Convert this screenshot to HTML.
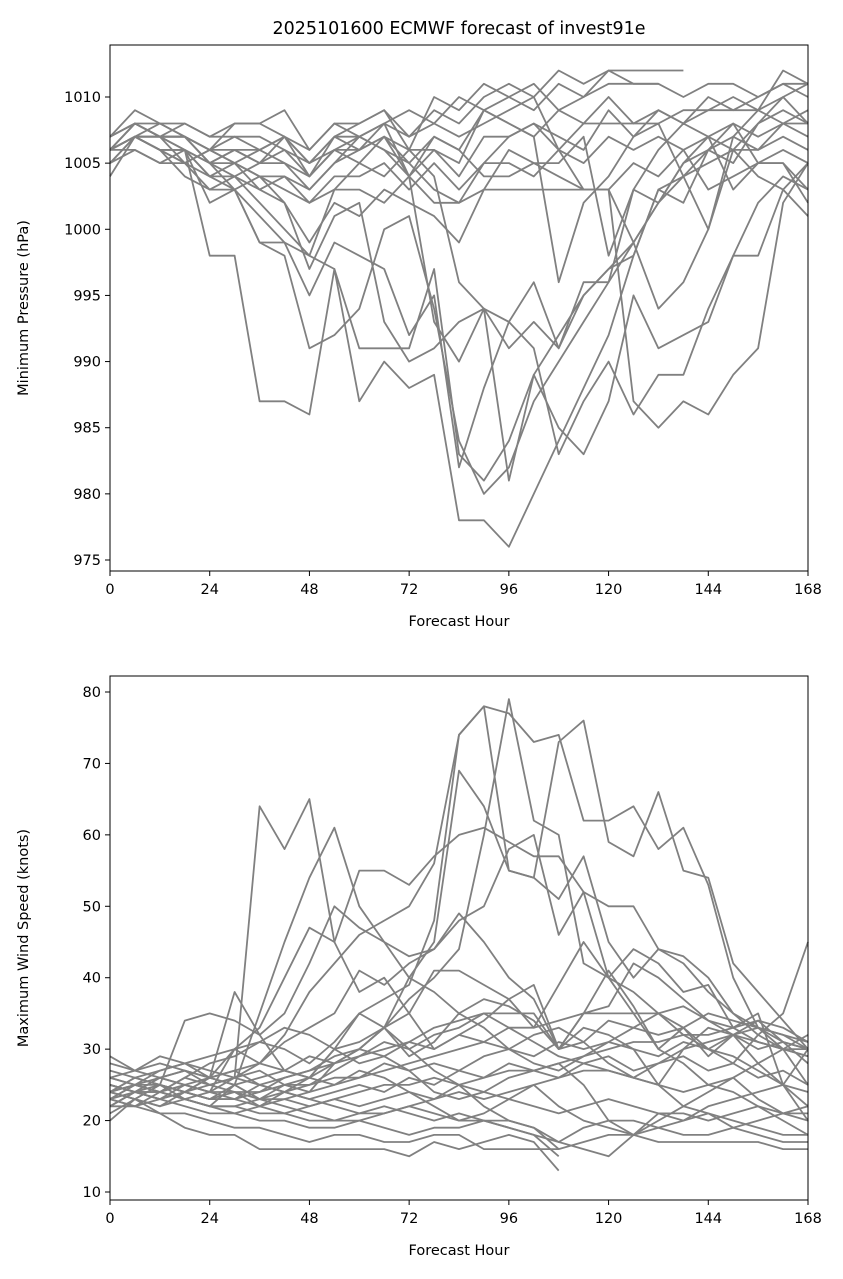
<!DOCTYPE html>
<html><head><meta charset="utf-8"><style>
html,body{margin:0;padding:0;background:#fff;}
svg{display:block;font-family:"DejaVu Sans","Liberation Sans",sans-serif;}
</style></head><body>
<svg id="chart" width="843" height="1279" viewBox="0 0 843 1279"></svg>
<script>
const hours = [0,6,12,18,24,30,36,42,48,54,60,66,72,78,84,90,96,102,108,114,120,126,132,138,144,150,156,162,168];
const xTicks = [0,24,48,72,96,120,144,168];
const pTicks = [975,980,985,990,995,1000,1005,1010];
const wTicks = [10,20,30,40,50,60,70,80];
const N = null;
const pressureSeries = [
[1006,1007,1006,1006,998,998,987,987,986,997,987,990,988,989,978,978,976,980,984,988,992,998,1003,1004,1006,1008,1007,1008,1009],
[1006,1008,1007,1007,1005,1003,999,999,998,997,991,991,991,997,983,981,984,989,992,995,997,999,1002,1004,1005,1006,1008,1009,1008],
[1005,1007,1006,1004,1003,1003,999,998,991,992,994,1000,1001,994,984,980,982,987,990,993,996,999,1002,1005,1006,1007,1009,1008,1007],
[1006,1007,1006,1006,1002,1003,1001,999,995,999,998,997,992,995,982,988,993,996,991,995,997,998,1003,1002,1006,1005,1008,1010,1008],
[1007,1008,1007,1006,1004,1005,1003,1002,997,1001,1002,993,990,991,993,994,991,993,991,996,996,1003,1002,1005,1007,1003,1005,1005,1003],
[1006,1007,1008,1007,1006,1005,1004,1002,999,1002,1001,1003,1002,1001,999,1003,1006,1005,1004,1003,1003,999,994,996,1000,1006,1004,1003,1001],
[1006,1007,1006,1005,1003,1004,1002,1000,998,1003,1005,1004,1006,1004,996,994,993,991,983,987,990,986,989,989,994,998,1002,1004,1003],
[1005,1007,1006,1006,1005,1005,1006,1005,1004,1006,1007,1006,1005,1003,1002,1005,1007,1008,1006,1003,1003,987,985,987,986,989,991,1002,1005],
[1004,1007,1007,1005,1006,1005,1004,1004,1003,1005,1006,1007,1004,993,990,994,981,989,985,983,987,995,991,992,993,998,998,1003,1005],
[1007,1009,1008,1007,1006,1008,1008,1009,1006,1008,1008,1009,1007,1009,1008,1010,1011,1010,1012,1011,1012,1012,1012,1012,N,N,N,N,N],
[1006,1008,1007,1008,1007,1007,1006,1007,1005,1007,1008,1009,1006,1010,1009,1011,1010,1011,1009,1010,1012,1011,1011,1010,1011,1011,1010,1011,1011],
[1006,1007,1006,1005,1006,1006,1005,1006,1004,1006,1006,1008,1004,1007,1006,1009,1008,1007,1009,1008,1010,1008,1009,1008,1009,1009,1010,1011,1010],
[1007,1008,1007,1006,1005,1004,1005,1005,1003,1005,1007,1006,1004,1006,1004,1007,1007,1008,1007,1006,1009,1007,1009,1008,1010,1009,1009,1010,1011],
[1006,1006,1005,1006,1004,1004,1003,1004,1002,1004,1004,1005,1003,1005,1003,1005,1005,1004,1006,1005,1007,1006,1007,1006,1007,1006,1006,1008,1008],
[1005,1006,1005,1005,1004,1003,1004,1003,1002,1003,1003,1002,1004,1002,1002,1003,1003,1003,1003,1003,1003,1005,1004,1006,1003,1004,1005,1005,1002],
[1006,1007,1007,1007,1006,1007,1007,1006,1005,1007,1007,1008,1007,1008,1007,1008,1009,1010,1006,1008,1008,1008,1008,1009,1009,1010,1009,1012,1011],
[1007,1008,1007,1007,1005,1006,1005,1007,1005,1006,1005,1007,1006,1006,1005,1009,1008,1007,996,1002,1004,1007,1008,1004,1000,1007,1006,1007,1006],
[1006,1007,1007,1007,1005,1006,1006,1007,1004,1007,1006,1007,1005,1007,1006,1004,1004,1005,1005,1007,998,1003,1006,1008,1007,1008,1005,1006,1005],
[1006,1008,1008,1008,1007,1008,1008,1007,1006,1008,1007,1008,1009,1008,1010,1009,1010,1009,1011,1010,1011,1011,1011,N,N,N,N,N,N]
];
const windSeries = [
[26,25,25,24,23,23,24,26,27,29,30,33,37,40,44,60,79,62,60,42,40,35,30,28,25,24,22,20,18],
[24,26,25,24,23,24,22,24,26,30,35,37,39,48,74,78,77,73,74,62,62,64,58,61,53,40,33,30,32],
[23,25,24,23,22,25,23,23,24,28,30,33,40,45,69,64,55,54,51,57,45,40,44,42,38,35,33,32,30],
[25,24,24,26,25,26,64,58,65,45,38,40,35,30,32,34,37,39,30,35,36,42,40,37,34,32,30,31,30],
[24,23,25,24,23,25,35,45,54,61,50,45,40,38,35,37,36,34,30,31,28,26,25,30,33,32,34,33,31],
[22,24,23,24,26,30,33,40,47,45,55,55,53,57,60,61,59,57,57,52,50,50,44,43,40,35,32,30,29],
[25,24,26,25,24,26,28,32,38,42,46,48,50,56,74,78,55,54,73,76,59,57,66,55,54,42,38,34,30],
[24,26,25,34,35,34,32,35,42,50,47,45,43,44,48,50,58,60,46,52,40,38,35,33,30,28,32,35,45],
[23,22,23,25,24,30,28,31,33,35,41,39,42,44,49,45,40,37,30,35,41,36,30,33,29,32,28,30,25],
[24,25,24,23,22,22,23,25,26,28,30,33,35,41,41,39,37,33,39,45,40,44,42,38,39,33,35,25,22],
[22,22,21,19,18,18,16,16,16,16,16,16,15,17,16,17,18,17,13,N,N,N,N,N,N,N,N,N,N],
[20,23,21,21,20,19,19,18,17,18,18,17,17,18,18,16,16,16,16,17,18,18,17,17,17,17,17,16,16],
[25,24,23,22,21,21,20,20,19,19,20,19,18,19,19,20,20,19,17,19,20,18,21,20,21,19,18,17,17],
[26,25,24,23,22,22,21,21,20,20,21,21,22,23,24,23,24,25,26,27,27,26,25,24,25,26,28,25,20],
[24,23,25,24,23,23,22,23,22,23,24,25,25,26,25,26,27,27,28,29,30,31,31,32,32,33,34,31,28],
[23,24,26,25,24,24,24,25,25,26,26,27,28,29,30,31,33,33,34,35,35,35,35,36,34,33,31,30,30],
[27,26,27,28,27,26,25,26,27,28,29,30,31,33,34,35,35,35,30,33,32,30,25,22,21,20,19,18,18],
[28,27,29,28,26,25,23,22,21,20,20,21,22,21,20,20,19,18,17,16,15,18,19,20,22,23,24,25,30],
[21,23,22,24,26,38,32,27,26,30,31,33,30,27,25,22,20,19,16,N,N,N,N,N,N,N,N,N,N],
[24,25,27,28,29,30,31,33,32,30,28,29,27,24,23,24,26,27,28,25,20,20,19,18,18,19,20,21,22],
[29,27,28,27,26,27,25,24,23,22,21,22,21,20,21,20,19,18,15,N,N,N,N,N,N,N,N,N,N],
[23,22,24,26,28,29,31,30,28,31,35,33,29,31,35,33,30,28,27,29,31,33,35,32,30,29,27,25,24],
[25,24,23,24,25,26,27,25,24,25,27,26,24,22,20,21,23,25,22,20,19,18,20,22,24,26,23,21,20],
[22,24,25,23,24,23,25,24,23,24,25,24,26,25,27,26,28,27,26,28,29,27,28,29,27,28,26,27,25],
[26,27,26,27,26,25,26,27,26,25,26,28,27,28,27,29,30,29,31,30,31,30,29,31,30,32,31,30,29],
[24,23,22,23,22,21,22,21,22,23,22,23,24,23,25,24,23,22,21,22,23,22,21,21,20,21,22,21,21],
[23,25,26,27,25,24,23,24,25,27,29,31,30,32,33,35,33,31,29,28,27,26,28,30,31,32,33,31,30],
[25,24,24,25,26,27,28,27,29,28,30,29,31,30,32,31,30,32,33,31,34,33,32,33,35,34,33,32,31]
];

const svg = document.getElementById('chart');
const NS = 'http://www.w3.org/2000/svg';
function mk(tag, attrs){ const e=document.createElementNS(NS,tag); for(const k in attrs) e.setAttribute(k,attrs[k]); svg.appendChild(e); return e; }

function panel(cfg){
  const {left,right,top,bottom,ymin,ymax,ticks,series,ylabel,prefix} = cfg;
  const xs = h => left + (h-0)/(168-0)*(right-left);
  const ys = v => bottom - (v-ymin)/(ymax-ymin)*(bottom-top);
  series.forEach((s,i)=>{
    let d='';
    let pen=false;
    s.forEach((v,j)=>{
      if(v===null){pen=false;return;}
      d += (pen?'L':'M')+xs(hours[j]).toFixed(1)+','+ys(v).toFixed(1)+' ';
      pen=true;
    });
    const p = mk('path',{d:d,fill:'none',stroke:'#808080','stroke-width':'1.8','stroke-linejoin':'round'});
    
    
  });
  const frame = mk('rect',{x:left,y:top,width:right-left,height:bottom-top,fill:'none',stroke:'#000','stroke-width':'1'});
  
  
  xTicks.forEach(t=>{
    const x=xs(t);
    mk('line',{x1:x,x2:x,y1:bottom,y2:bottom+5,stroke:'#000','stroke-width':'1'});
    const tx = mk('text',{x:x,y:bottom+23,'text-anchor':'middle','font-size':'14.5',fill:'#000'});
    tx.textContent=t;
    
    
  });
  ticks.forEach(t=>{
    const y=ys(t);
    mk('line',{x1:left-5,x2:left,y1:y,y2:y,stroke:'#000','stroke-width':'1'});
    const tx = mk('text',{x:left-9,y:y+5,'text-anchor':'end','font-size':'14.5',fill:'#000'});
    tx.textContent=t;
    
    
  });
  const xl = mk('text',{x:(left+right)/2,y:bottom+55,'text-anchor':'middle','font-size':'14.5',fill:'#000'});
  xl.textContent='Forecast Hour';
  
  
  const cy=(top+bottom)/2;
  const yl = mk('text',{x:28,y:cy,'text-anchor':'middle','font-size':'14.5',fill:'#000',transform:'rotate(-90 28 '+cy+')'});
  yl.textContent=ylabel;
  
  
}

panel({left:110,right:808,top:45,bottom:571,ymin:975-11/13.229,ymax:1010+52/13.229,ticks:pTicks,series:pressureSeries,ylabel:'Minimum Pressure (hPa)',prefix:'pressure'});
panel({left:110,right:808,top:676,bottom:1200,ymin:10-8/7.1429,ymax:80+16/7.1429,ticks:wTicks,series:windSeries,ylabel:'Maximum Wind Speed (knots)',prefix:'wind'});
const title = document.createElementNS(NS,'text');
title.setAttribute('x','459');title.setAttribute('y','34');title.setAttribute('text-anchor','middle');title.setAttribute('font-size','17.5');
title.textContent='2025101600 ECMWF forecast of invest91e';


svg.appendChild(title);
</script>
</body></html>
